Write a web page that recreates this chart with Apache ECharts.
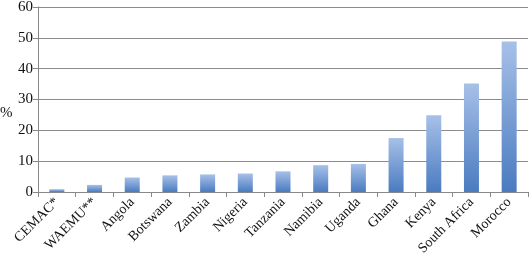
<!DOCTYPE html>
<html><head><meta charset="utf-8">
<script src="https://cdn.jsdelivr.net/npm/echarts@6/dist/echarts.min.js"></script>
<style>html,body{margin:0;padding:0;background:#fff}#c{width:530px;height:258px}</style>
</head><body><div id="c"></div>
<script>
var categories = ["CEMAC*","WAEMU**","Angola","Botswana","Zambia","Nigeria","Tanzania","Namibia","Uganda","Ghana","Kenya","South Africa","Morocco"];
var values = [0.9, 2.3, 4.7, 5.4, 5.7, 6.0, 6.7, 8.7, 9.1, 17.5, 24.9, 35.2, 48.8];
var yTicks = [0, 10, 20, 30, 40, 50, 60];
var font = "'Liberation Serif', serif";
var chart = echarts.init(document.getElementById('c'), null, {renderer: 'canvas'});
chart.setOption({
  animation: false,
  grid: {left: 38, right: 2, top: 7, bottom: 66, outerBoundsMode: 'none', containLabel: false},
  graphic: [{type: 'text', left: 0, top: 106, style: {text: '%', font: "15px 'Liberation Serif', serif", fill: '#111'}}],
  xAxis: {
    type: 'category', data: categories,
    axisLine: {lineStyle: {color: '#888', width: 1}},
    axisTick: {show: true, alignWithLabel: false, length: 5, lineStyle: {color: '#888'}},
    axisLabel: {rotate: 45, interval: 0, fontFamily: font, fontSize: 14, color: '#111', margin: 8}
  },
  yAxis: {
    type: 'value', min: yTicks[0], max: yTicks[yTicks.length-1], interval: 10,
    axisLine: {show: true, lineStyle: {color: '#888', width: 1}},
    axisTick: {show: true, length: 5, lineStyle: {color: '#888'}},
    axisLabel: {fontFamily: font, fontSize: 15, color: '#111', margin: 5},
    splitLine: {lineStyle: {color: '#8c8c8c', width: 1}}
  },
  series: [{
    type: 'bar', data: values, barWidth: 15,
    itemStyle: {color: new echarts.graphic.LinearGradient(0, 0, 0, 1, [
      {offset: 0, color: '#a7c0e8'}, {offset: 1, color: '#4a7bc0'}])}
  }]
});
</script></body></html>
